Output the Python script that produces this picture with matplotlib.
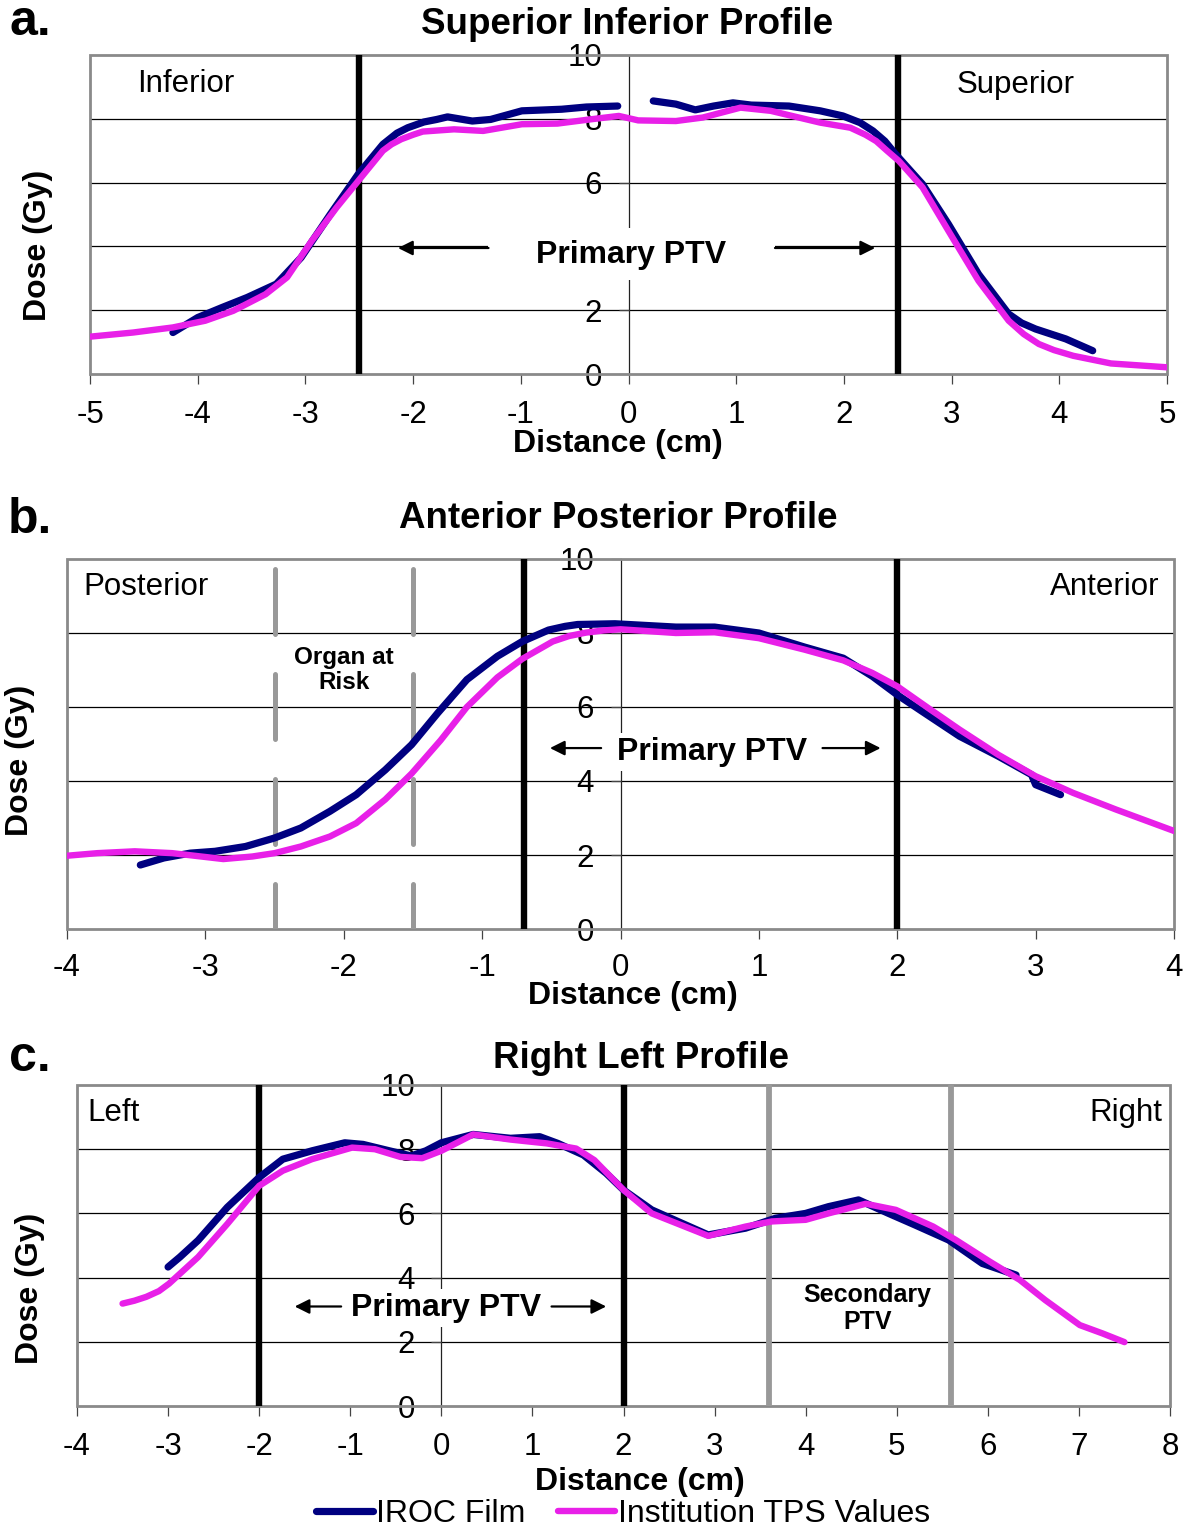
import matplotlib
matplotlib.use("Agg")
import matplotlib.pyplot as plt
from matplotlib.patches import Rectangle
from matplotlib.lines import Line2D

plt.rcParams['font.family'] = ['Liberation Sans', 'DejaVu Sans']

# ---------------- data ----------------
# Panel a: Superior Inferior profile
a_film_x1 = [-4.23, -4.0, -3.77, -3.54, -3.27, -3.04, -2.77, -2.51, -2.28, -2.15, -2.05, -1.9, -1.78, -1.68, -1.45, -1.28, -0.99, -0.62, -0.39, -0.1]
a_film_y1 = [1.30, 1.77, 2.09, 2.40, 2.82, 3.65, 5.00, 6.26, 7.20, 7.55, 7.72, 7.90, 7.98, 8.06, 7.93, 7.98, 8.25, 8.30, 8.37, 8.40]
a_film_x2 = [0.23, 0.44, 0.62, 0.79, 0.97, 1.14, 1.49, 1.78, 1.99, 2.15, 2.27, 2.38, 2.48, 2.73, 2.97, 3.25, 3.53, 3.65, 3.78, 4.06, 4.31]
a_film_y2 = [8.56, 8.46, 8.28, 8.40, 8.50, 8.43, 8.40, 8.25, 8.09, 7.88, 7.62, 7.30, 6.89, 5.95, 4.70, 3.13, 1.88, 1.60, 1.41, 1.10, 0.73]
a_tps_x = [-5.0, -4.6, -4.23, -3.93, -3.67, -3.37, -3.17, -2.94, -2.71, -2.51, -2.28, -2.2, -2.11, -2.0, -1.91, -1.62, -1.35, -0.99, -0.66, -0.36, -0.09, 0.09, 0.44, 0.69, 1.04, 1.32, 1.78, 2.06, 2.2, 2.30, 2.4, 2.51, 2.73, 2.97, 3.25, 3.53, 3.67, 3.81, 3.95, 4.13, 4.48, 5.0]
a_tps_y = [1.17, 1.30, 1.46, 1.67, 1.98, 2.50, 3.03, 4.18, 5.22, 6.05, 7.00, 7.20, 7.36, 7.50, 7.60, 7.67, 7.62, 7.83, 7.85, 7.98, 8.09, 7.95, 7.93, 8.04, 8.35, 8.25, 7.88, 7.72, 7.50, 7.30, 7.00, 6.68, 5.85, 4.49, 2.92, 1.67, 1.25, 0.94, 0.75, 0.57, 0.33, 0.21]

# Panel b: Anterior Posterior profile
b_film_x = [-3.47, -3.30, -3.11, -2.93, -2.71, -2.50, -2.31, -2.10, -1.91, -1.70, -1.51, -1.32, -1.11, -0.89, -0.71, -0.6, -0.52, -0.4, -0.31, -0.04, 0.40, 0.68, 1.00, 1.33, 1.61, 1.82, 2.00, 2.18, 2.45, 2.73, 2.97, 3.0, 3.18]
b_film_y = [1.73, 1.92, 2.05, 2.10, 2.23, 2.46, 2.73, 3.18, 3.63, 4.30, 4.98, 5.84, 6.74, 7.37, 7.77, 7.95, 8.08, 8.18, 8.23, 8.25, 8.16, 8.16, 8.00, 7.62, 7.32, 6.83, 6.33, 5.88, 5.21, 4.67, 4.17, 3.90, 3.63]
b_tps_x = [-4.0, -3.78, -3.51, -3.24, -2.87, -2.66, -2.50, -2.31, -2.10, -1.91, -1.70, -1.51, -1.30, -1.11, -0.89, -0.71, -0.49, -0.37, -0.25, -0.12, 0.0, 0.40, 0.68, 1.00, 1.33, 1.61, 1.82, 2.00, 2.24, 2.45, 2.73, 3.00, 3.27, 3.58, 4.0]
b_tps_y = [1.98, 2.05, 2.10, 2.05, 1.89, 1.96, 2.05, 2.23, 2.50, 2.86, 3.50, 4.20, 5.10, 6.00, 6.80, 7.30, 7.77, 7.92, 8.01, 8.07, 8.10, 8.00, 8.02, 7.86, 7.55, 7.26, 6.92, 6.56, 5.93, 5.39, 4.71, 4.13, 3.68, 3.23, 2.65]

# Panel c: Right Left profile
c_film_x = [-3.0, -2.87, -2.67, -2.35, -2.0, -1.74, -1.42, -1.06, -0.86, -0.57, -0.33, -0.17, 0.0, 0.35, 0.76, 1.08, 1.28, 1.56, 1.81, 2.0, 2.31, 2.93, 3.34, 3.67, 4.0, 4.25, 4.58, 4.91, 5.2, 5.57, 5.94, 6.31]
c_film_y = [4.33, 4.64, 5.16, 6.19, 7.12, 7.69, 7.95, 8.20, 8.15, 7.95, 7.79, 7.95, 8.20, 8.46, 8.34, 8.39, 8.18, 7.82, 7.25, 6.73, 6.11, 5.33, 5.54, 5.85, 6.00, 6.21, 6.42, 6.00, 5.64, 5.17, 4.44, 4.08]
c_tps_x = [-3.5, -3.37, -3.24, -3.1, -2.99, -2.67, -2.35, -2.0, -1.74, -1.42, -0.98, -0.73, -0.45, -0.21, 0.0, 0.35, 0.76, 1.16, 1.48, 1.68, 2.0, 2.31, 2.93, 3.34, 3.63, 4.0, 4.25, 4.66, 4.99, 5.4, 5.65, 6.02, 6.35, 6.63, 7.01, 7.26, 7.5]
c_tps_y = [3.19, 3.28, 3.40, 3.58, 3.81, 4.64, 5.67, 6.86, 7.33, 7.69, 8.05, 8.00, 7.76, 7.72, 7.95, 8.46, 8.30, 8.18, 8.02, 7.66, 6.73, 6.00, 5.30, 5.59, 5.75, 5.80, 6.00, 6.30, 6.11, 5.59, 5.17, 4.50, 3.93, 3.30, 2.52, 2.26, 1.99]

yticks = [0, 2, 4, 6, 8, 10]
a_xticks = [-5, -4, -3, -2, -1, 0, 1, 2, 3, 4, 5]
b_xticks = [-4, -3, -2, -1, 0, 1, 2, 3, 4]
c_xticks = [-4, -3, -2, -1, 0, 1, 2, 3, 4, 5, 6, 7, 8]

a_ptv = [-2.5, 2.5]
b_ptv = [-0.7, 2.0]
b_oar = [-2.5, -1.5]
c_ptv = [-2.0, 2.0]
c_sec = [3.6, 5.6]

FILM = '#000080'
TPS = '#e820e8'
W, H = 1194, 1531
TICK_FS = 22.5
LAB_FS = 23

fig = plt.figure(figsize=(W / 100, H / 100), dpi=100)


def fx(px):
    return px / W


def fy(py):
    return 1 - py / H


def make_axes(l, r, t, b, xticks, hidden_y=(), xpad=12):
    ax = fig.add_axes([fx(l), fy(b), fx(r) - fx(l), fy(t) - fy(b)])
    ax.set_xlim(xticks[0], xticks[-1])
    ax.set_ylim(yticks[0], yticks[-1])
    for s in ['top', 'right', 'bottom']:
        ax.spines[s].set_visible(False)
    ax.spines['left'].set_position(('data', 0))
    ax.spines['left'].set_color('#222222')
    ax.spines['left'].set_linewidth(0.9)
    ax.spines['left'].set_zorder(1.5)
    ax.add_patch(Rectangle((0, 0), 1, 1, transform=ax.transAxes, fill=False,
                           edgecolor='#8a8a8a', lw=2.0, zorder=1.6, clip_on=False))
    for v in yticks[1:-1]:
        ax.axhline(v, color='black', lw=0.9, zorder=1)
    ax.set_xticks(xticks)
    ax.set_yticks(yticks)
    ax.set_xticklabels([str(v) for v in xticks])
    ax.set_yticklabels(['' if v in hidden_y else str(v) for v in yticks])
    ax.tick_params(axis='x', direction='out', length=7, width=0.9, color='#444444',
                   labelsize=TICK_FS, pad=xpad)
    ax.tick_params(axis='y', direction='out', length=7, width=0.9, color='#444444',
                   labelsize=TICK_FS, pad=12)
    return ax


def vline(ax, x, color='black', lw=4.6, **kw):
    ax.axvline(x, color=color, lw=lw, zorder=2.5, solid_capstyle='butt', **kw)


def curve(ax, x, y, color, lw, z):
    ax.plot(x, y, color=color, lw=lw, zorder=z, solid_capstyle='round',
            solid_joinstyle='round')


def arrow(ax, x0, x1, y):
    ax.annotate('', xy=(x1, y), xytext=(x0, y),
                arrowprops=dict(arrowstyle='-|>', color='black', lw=1.6,
                                mutation_scale=22, shrinkA=0, shrinkB=0), zorder=5)


# ---------------- Panel a ----------------
axa = make_axes(90, 1167, 55, 374, a_xticks, hidden_y=(4,))
for v in a_ptv:
    vline(axa, v)
curve(axa, a_film_x1, a_film_y1, FILM, 5.2, 3)
curve(axa, a_film_x2, a_film_y2, FILM, 5.2, 3)
curve(axa, a_tps_x, a_tps_y, TPS, 4.6, 4)
axa.add_patch(Rectangle((-1.3, 2.95), 2.66, 1.63, facecolor='white', edgecolor='none', zorder=2.6))
axa.text(0.02, 3.72, 'Primary PTV', ha='center', va='center', fontsize=LAB_FS, fontweight='bold', zorder=5)
arrow(axa, -1.3, -2.14, 3.95)
arrow(axa, 1.36, 2.29, 3.95)
axa.text(-4.11, 9.1, 'Inferior', ha='center', va='center', fontsize=TICK_FS)
axa.text(3.59, 9.05, 'Superior', ha='center', va='center', fontsize=TICK_FS)

# ---------------- Panel b ----------------
axb = make_axes(67, 1174, 559, 929, b_xticks, xpad=10)
for v in b_oar:
    axb.axvline(v, color='#999999', lw=3.6, zorder=2.5, dash_capstyle='round',
                linestyle=(4, (13, 8)))
vline(axb, b_ptv[0])
vline(axb, b_ptv[1])
curve(axb, b_film_x, b_film_y, FILM, 5.2, 3)
curve(axb, b_tps_x, b_tps_y, TPS, 4.6, 4)
axb.text(0.66, 4.78, 'Primary PTV', ha='center', va='center', fontsize=LAB_FS, fontweight='bold',
         zorder=5, bbox=dict(facecolor='white', edgecolor='none', pad=3))
arrow(axb, -0.14, -0.51, 4.89)
arrow(axb, 1.46, 1.88, 4.89)
axb.text(-2.0, 7.0, 'Organ at\nRisk', ha='center', va='center', fontsize=17.5,
         fontweight='bold', linespacing=1.15, zorder=5)
axb.text(-3.43, 9.24, 'Posterior', ha='center', va='center', fontsize=TICK_FS)
axb.text(3.5, 9.24, 'Anterior', ha='center', va='center', fontsize=TICK_FS)

# ---------------- Panel c ----------------
axc = make_axes(77, 1170, 1085, 1406, c_xticks)
for v in c_ptv:
    vline(axc, v)
for v in c_sec:
    vline(axc, v, color='#999999', lw=4.2)
curve(axc, c_film_x, c_film_y, FILM, 5.2, 3)
curve(axc, c_tps_x, c_tps_y, TPS, 4.6, 4)
axc.text(0.05, 3.05, 'Primary PTV', ha='center', va='center', fontsize=LAB_FS, fontweight='bold',
         zorder=5, bbox=dict(facecolor='white', edgecolor='none', pad=3))
arrow(axc, -1.10, -1.61, 3.1)
arrow(axc, 1.21, 1.81, 3.1)
axc.text(4.68, 3.05, 'Secondary\nPTV', ha='center', va='center', fontsize=18,
         fontweight='bold', linespacing=1.15, zorder=5)
axc.text(-3.6, 9.13, 'Left', ha='center', va='center', fontsize=TICK_FS)
axc.text(7.52, 9.13, 'Right', ha='center', va='center', fontsize=TICK_FS)

# ---------------- figure texts ----------------
bold = dict(fontweight='bold', ha='center', va='center')
fig.text(fx(627), fy(25), 'Superior Inferior Profile', fontsize=26.5, **bold)
fig.text(fx(618), fy(519), 'Anterior Posterior Profile', fontsize=26.5, **bold)
fig.text(fx(641), fy(1058), 'Right Left Profile', fontsize=26.5, **bold)
fig.text(fx(30), fy(22), 'a.', fontsize=36, **bold)
fig.text(fx(30), fy(520), 'b.', fontsize=36, **bold)
fig.text(fx(30), fy(1058), 'c.', fontsize=36, **bold)
fig.text(fx(618), fy(444), 'Distance (cm)', fontsize=LAB_FS, **bold)
fig.text(fx(633), fy(996), 'Distance (cm)', fontsize=LAB_FS, **bold)
fig.text(fx(640), fy(1482), 'Distance (cm)', fontsize=LAB_FS, **bold)
fig.text(fx(38), fy(245), 'Dose (Gy)', fontsize=LAB_FS, rotation=90, **bold)
fig.text(fx(20), fy(760), 'Dose (Gy)', fontsize=LAB_FS, rotation=90, **bold)
fig.text(fx(30), fy(1288), 'Dose (Gy)', fontsize=LAB_FS, rotation=90, **bold)

handles = [Line2D([], [], color=FILM, lw=5.2, solid_capstyle='round'),
           Line2D([], [], color=TPS, lw=4.6, solid_capstyle='round')]
fig.legend(handles, ['IROC Film', 'Institution TPS Values'], loc='center',
           bbox_to_anchor=(fx(623), fy(1514)), ncol=2, frameon=False, fontsize=LAB_FS,
           handlelength=1.8, handletextpad=0.1, columnspacing=1.0,
           borderaxespad=0, borderpad=0)

fig.savefig('out.png', dpi=100)
